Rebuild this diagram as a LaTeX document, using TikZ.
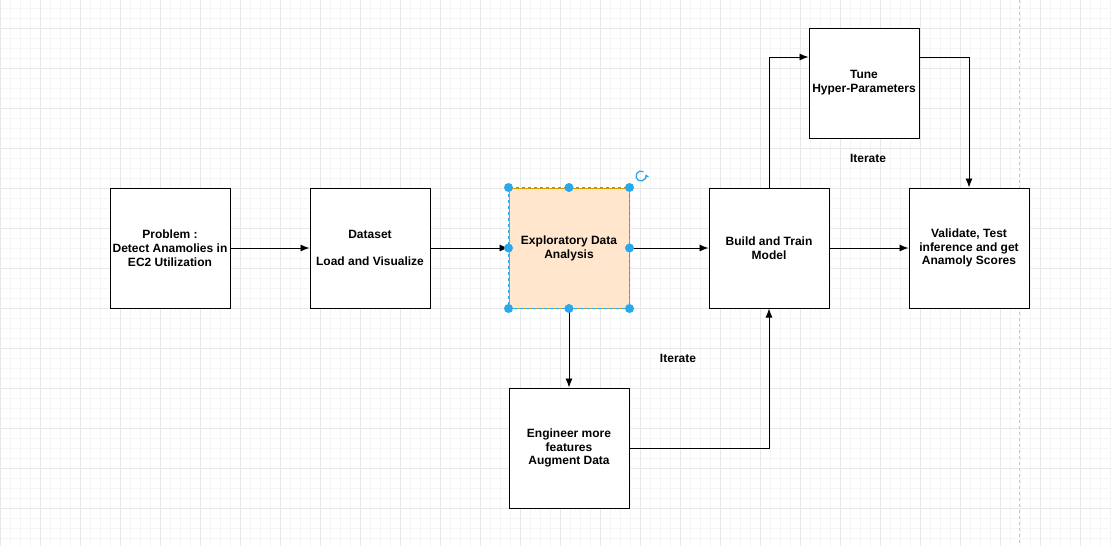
\documentclass[tikz,border=0pt]{standalone}
\usepackage{fontspec}
\setmainfont{Liberation Sans}
\usetikzlibrary{positioning,arrows.meta}

\begin{document}
\begin{tikzpicture}[
            >={Latex[length=9pt,width=7pt]},
            x=1pt, y=-1pt,
            font=\bfseries\fontsize{12}{13.8}\selectfont,
            stepbox/.style={draw, line width=1pt, fill=white, minimum width=120pt, minimum height=120pt, align=center, inner sep=2pt},
            gridminor/.style={line width=0.5pt, color=gray!8},
            gridmajor/.style={line width=0.6pt, color=gray!18},
            handle/.style={circle, fill=selblue, inner sep=0pt, minimum size=9pt},
            flow/.style={->, line width=0.9pt}
        ]
		\definecolor{selblue}{HTML}{29A8EC}
		\definecolor{peach}{HTML}{FFE6CC}
		\definecolor{peachline}{HTML}{D79B00}
		\useasboundingbox (0,0) rectangle (1111,546);
		\fill[white] (0,0) rectangle (1111,546);

		%Grid
		\foreach \x in {0,10,...,1110} \draw[gridminor] (\x,0) -- (\x,546);
		\foreach \y in {8,18,...,546} \draw[gridminor] (0,\y) -- (1111,\y);
		\foreach \x in {0,40,...,1110} \draw[gridmajor] (\x,0) -- (\x,546);
		\foreach \y in {28,68,...,546} \draw[gridmajor] (0,\y) -- (1111,\y);
		\draw[dashed, gray!45, line width=0.8pt] (1019,0) -- (1019,546);

		%Boxes
		\node[stepbox] (prob) at (170,248) {Problem :\\Detect Anamolies in\\EC2 Utilization};
		\node[stepbox] (data) at (370,248) {Dataset\\[13.8pt]Load and Visualize};
		\node[stepbox, fill=peach, draw=peachline] (eda) at (569,248) {Exploratory Data\\Analysis};
		\node[stepbox] (build) at (769,248) {Build and Train\\Model};
		\node[stepbox] (valid) at (969,248) {Validate, Test\\inference and get\\Anamoly Scores};
		\node[stepbox, minimum width=110pt, minimum height=110pt] (tune) at (864,83) {Tune\\Hyper-Parameters};
		\node[stepbox] (eng) at (569,448) {Engineer more\\features\\Augment Data};

		\node (iter1) at (868,158) {Iterate};
		\node (iter2) at (678,358) {Iterate};

		%Connectors
		\coordinate (tunein) at ([yshift=26pt]tune.west);
		\coordinate (tuneout) at ([yshift=26pt]tune.east);
		\draw[flow] (prob) -- (data);
		\draw[flow] (data) -- (eda);
		\draw[flow] (eda) -- (build);
		\draw[flow] (build) -- (valid);
		\draw[flow] (eda) -- (eng);
		\draw[flow] (eng.east) -| (build.south);
		\draw[flow] (build.north) |- (tunein);
		\draw[flow] (tuneout) -| (valid.north);

		%Selection
		\draw[selblue, dashed, line width=0.8pt] (eda.north west) rectangle (eda.south east);
		\foreach \a/\n in {north west/h1, north/h2, north east/h3, west/h4, east/h5, south west/h6, south/h7, south east/h8}
			\node[handle] (\n) at (eda.\a) {};
		\coordinate (rot) at (641,176);
		\draw[selblue, line width=1.3pt, -{Stealth[length=4pt,width=5pt]}] ([shift={(60:5pt)}]rot) arc[start angle=60, end angle=380, radius=5pt];
    \end{tikzpicture}
\end{document}
